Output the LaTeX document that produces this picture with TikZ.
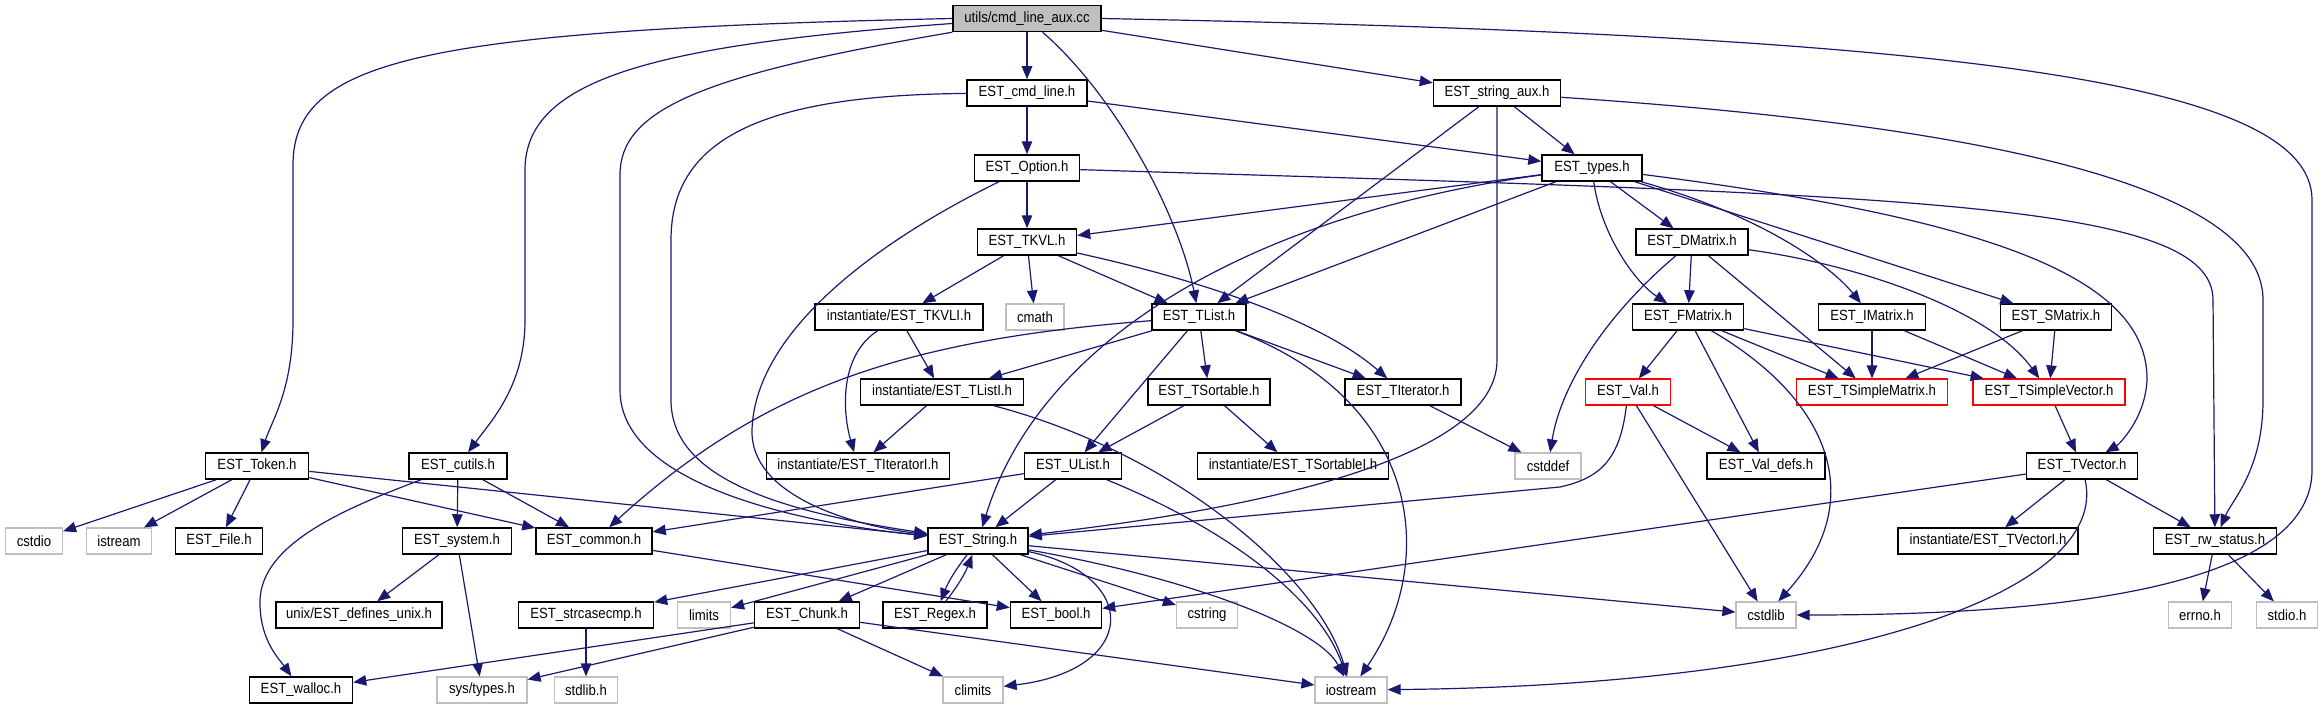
\documentclass[tikz,border=0pt]{standalone}
\usepackage{fontspec}
\setmainfont{Liberation Sans}[FakeStretch=0.89]
\usetikzlibrary{arrows.meta}
\definecolor{edgeblue}{HTML}{191970}
\definecolor{sysborder}{HTML}{BFBFBF}
\definecolor{rootfill}{HTML}{BFBFBF}
\definecolor{badborder}{HTML}{FF0000}
\newcommand{\depfont}{\fontsize{14.8}{16}\selectfont}
\tikzset{
  hdr/.style={rectangle, draw=black, line width=1.5pt, fill=white, minimum height=26pt, inner sep=0pt, font=\depfont},
  sysh/.style={hdr, draw=sysborder, line width=1.2pt},
  bad/.style={hdr, draw=badborder, line width=1.2pt},
  rootbox/.style={hdr, fill=rootfill},
  dep/.style={-{Triangle[length=13pt,width=10.5pt]}, draw=edgeblue, line width=1.2pt}
}
\begin{document}
\begin{tikzpicture}[x=1pt, y=-1pt]
\useasboundingbox (0,0) rectangle (2323,709);

% rows of the include graph
\node[rootbox, minimum width=148pt] (root) at (1027,18.5) {utils/cmd\_line\_aux.cc};

\node[hdr, minimum width=120pt] (cmd) at (1027,93) {EST\_cmd\_line.h};
\node[hdr, minimum width=127pt] (sa) at (1497,93) {EST\_string\_aux.h};

\node[hdr, minimum width=105pt] (opt) at (1027,168) {EST\_Option.h};
\node[hdr, minimum width=100pt] (ty) at (1592,168) {EST\_types.h};

\node[hdr, minimum width=99pt] (tkvl) at (1027,242) {EST\_TKVL.h};
\node[hdr, minimum width=112pt] (dm) at (1692,242) {EST\_DMatrix.h};

\node[hdr, minimum width=168pt] (tkvli) at (899,317) {instantiate/EST\_TKVLI.h};
\node[sysh, minimum width=58pt] (cmath) at (1035,317) {cmath};
\node[hdr, minimum width=94pt] (tl) at (1199,317) {EST\_TList.h};
\node[hdr, minimum width=111pt] (fm) at (1688,317) {EST\_FMatrix.h};
\node[hdr, minimum width=107pt] (im) at (1872,317) {EST\_IMatrix.h};
\node[hdr, minimum width=111pt] (sm) at (2056,317) {EST\_SMatrix.h};

\node[hdr, minimum width=163pt] (tli) at (942,392) {instantiate/EST\_TListI.h};
\node[hdr, minimum width=122pt] (tso) at (1209,392) {EST\_TSortable.h};
\node[hdr, minimum width=116pt] (tit) at (1403,392) {EST\_TIterator.h};
\node[bad, minimum width=85pt] (val) at (1628,392) {EST\_Val.h};
\node[bad, minimum width=151pt] (tsm) at (1872,392) {EST\_TSimpleMatrix.h};
\node[bad, minimum width=152pt] (tsv) at (2049,392) {EST\_TSimpleVector.h};

\node[hdr, minimum width=103pt] (tok) at (257,466) {EST\_Token.h};
\node[hdr, minimum width=98pt] (cut) at (458,466) {EST\_cutils.h};
\node[hdr, minimum width=183pt] (titi) at (858,466) {instantiate/EST\_TIteratorI.h};
\node[hdr, minimum width=97pt] (ul) at (1073,466) {EST\_UList.h};
\node[hdr, minimum width=191pt] (tsoi) at (1293,466) {instantiate/EST\_TSortableI.h};
\node[sysh, minimum width=66pt] (cdef) at (1548,466) {cstddef};
\node[hdr, minimum width=118pt] (vdef) at (1766,466) {EST\_Val\_defs.h};
\node[hdr, minimum width=111pt] (tv) at (2082,466) {EST\_TVector.h};

\node[sysh, minimum width=57pt] (cstdio) at (34,541) {cstdio};
\node[sysh, minimum width=65pt] (istr) at (119,541) {istream};
\node[hdr, minimum width=87pt] (file) at (219,541) {EST\_File.h};
\node[hdr, minimum width=109pt] (sys) at (457,541) {EST\_system.h};
\node[hdr, minimum width=116pt] (com) at (594,541) {EST\_common.h};
\node[hdr, minimum width=100pt] (str) at (978,541) {EST\_String.h};
\node[hdr, minimum width=180pt] (tvi) at (1988,541) {instantiate/EST\_TVectorI.h};
\node[hdr, minimum width=123pt] (rw) at (2215,541) {EST\_rw\_status.h};

\node[hdr, minimum width=166pt] (unix) at (359,615) {unix/EST\_defines\_unix.h};
\node[hdr, minimum width=135pt] (scc) at (586,615) {EST\_strcasecmp.h};
\node[sysh, minimum width=53pt] (lim) at (704,615) {limits};
\node[hdr, minimum width=105pt] (chunk) at (807,615) {EST\_Chunk.h};
\node[hdr, minimum width=104pt] (rgx) at (935,615) {EST\_Regex.h};
\node[hdr, minimum width=91pt] (bool) at (1056,615) {EST\_bool.h};
\node[sysh, minimum width=61pt] (cstr) at (1207,615) {cstring};
\node[sysh, minimum width=60pt] (cstdlib) at (1766,615) {cstdlib};
\node[sysh, minimum width=63pt] (errno) at (2200,615) {errno.h};
\node[sysh, minimum width=61pt] (stdio) at (2287,615) {stdio.h};

\node[hdr, minimum width=103pt] (wal) at (301,690) {EST\_walloc.h};
\node[sysh, minimum width=90pt] (systy) at (482,690) {sys/types.h};
\node[sysh, minimum width=63pt] (stdl) at (586,690) {stdlib.h};
\node[sysh, minimum width=60pt] (clim) at (973,690) {climits};
\node[sysh, minimum width=72pt] (ios) at (1351,690) {iostream};

% root
\draw[dep] (root.west) .. controls (420,30) and (293,60) .. (293,165) -- (293,320) .. controls (293,390) and (272,420) .. (tok);
\draw[dep] ([yshift=-5pt]root.west) .. controls (650,45) and (525,80) .. (525,170) -- (525,320) .. controls (525,385) and (492,420) .. (cut);
\draw[dep] (root.south west) .. controls (700,75) and (620,110) .. (620,175) -- (620,390) .. controls (620,490) and (820,525) .. (str);
\draw[dep] (root) -- (cmd);
\draw[dep] (root) .. controls (1120,100) and (1180,220) .. (tl);
\draw[dep] (root) -- (sa);
\draw[dep] (root.east) .. controls (1950,35) and (2312,80) .. (2312,200) -- (2312,470) .. controls (2312,600) and (2000,615) .. (cstdlib);

% cmd_line, string_aux, option
\draw[dep] (cmd) -- (opt);
\draw[dep] (cmd) -- (ty);
\draw[dep] (cmd) .. controls (760,95) and (671,140) .. (671,240) -- (671,400) .. controls (671,475) and (770,510) .. (str);
\draw[dep] (sa) -- (ty);
\draw[dep] (sa) -- (tl);
\draw[dep] (sa) -- (1497,360) .. controls (1497,470) and (1200,515) .. (str);
\draw[dep] (sa) .. controls (1900,120) and (2263,170) .. (2263,300) -- (2263,400) .. controls (2263,470) and (2232,500) .. (rw);
\draw[dep] (opt) -- (tkvl);
\draw[dep] (opt) .. controls (880,240) and (755,330) .. (752,430) .. controls (750,495) and (850,525) .. (str);
\draw[dep] (opt) .. controls (1900,195) and (2213,200) .. (2213,300) -- (rw);

% types
\draw[dep] (ty) -- (tkvl);
\draw[dep] (ty) -- (tl);
\draw[dep] (ty) .. controls (1250,215) and (1040,340) .. (str);
\draw[dep] (ty) -- (dm);
\draw[dep] (ty) .. controls (1600,230) and (1632,280) .. (fm);
\draw[dep] (ty) .. controls (1760,215) and (1830,265) .. (im);
\draw[dep] (ty) -- (sm);
\draw[dep] (ty) .. controls (2000,220) and (2148,280) .. (2147,380) .. controls (2145,420) and (2118,445) .. (tv);

% containers
\draw[dep] (tkvl) -- (tkvli);
\draw[dep] (tkvl) -- (cmath);
\draw[dep] (tkvl) -- (tl);
\draw[dep] (tkvl) .. controls (1200,280) and (1320,320) .. (tit);
\draw[dep] (tkvli) -- (tli);
\draw[dep] (tkvli) .. controls (840,355) and (842,410) .. (titi);
\draw[dep] (tl) .. controls (900,340) and (760,390) .. (com);
\draw[dep] (tl) -- (tli);
\draw[dep] (tl) -- (ul);
\draw[dep] (tl) -- (tso);
\draw[dep] (tl) -- (tit);
\draw[dep] (tl) .. controls (1420,400) and (1440,560) .. (ios);
\draw[dep] (tli) -- (titi);
\draw[dep] (tli) .. controls (1180,455) and (1320,580) .. (ios);
\draw[dep] (tso) -- (ul);
\draw[dep] (tso) -- (tsoi);
\draw[dep] (tit) -- (cdef);
\draw[dep] (ul) -- (com);
\draw[dep] (ul) -- (str);
\draw[dep] (ul) .. controls (1230,530) and (1320,600) .. (ios);

% matrices
\draw[dep] (dm) -- (fm);
\draw[dep] (dm) .. controls (1600,320) and (1560,390) .. (cdef);
\draw[dep] (dm) -- (tsm);
\draw[dep] (dm) .. controls (1860,265) and (1990,310) .. (tsv);
\draw[dep] (fm) -- (val);
\draw[dep] (fm) -- (vdef);
\draw[dep] (fm) -- (tsm);
\draw[dep] (fm) -- (tsv);
\draw[dep] (fm) .. controls (1830,400) and (1870,500) .. (cstdlib);
\draw[dep] (im) -- (tsm);
\draw[dep] (im) -- (tsv);
\draw[dep] (sm) -- (tsm);
\draw[dep] (sm) -- (tsv);
\draw[dep] (val) -- (vdef);
\draw[dep] (val) -- (cstdlib);
\draw[dep] (val) .. controls (1620,460) and (1600,478) .. (1560,487) -- (str);
\draw[dep] (tsv) -- (tv);
\draw[dep] (tv) -- (tvi);
\draw[dep] (tv) -- (rw);
\draw[dep] (tv) -- (bool);
\draw[dep] (tv) .. controls (2110,590) and (1850,685) .. (ios);
\draw[dep] (rw) -- (errno);
\draw[dep] (rw) -- (stdio);

% left side
\draw[dep] (tok) -- (cstdio);
\draw[dep] (tok) -- (istr);
\draw[dep] (tok) -- (file);
\draw[dep] (tok) -- (com);
\draw[dep] (tok) -- (str);
\draw[dep] (cut) .. controls (340,510) and (262,545) .. (260,600) .. controls (259,640) and (280,660) .. (wal);
\draw[dep] (cut) -- (sys);
\draw[dep] (cut) -- (com);
\draw[dep] (sys) -- (unix);
\draw[dep] (sys) -- (systy);
\draw[dep] (com) -- (bool);

% string
\draw[dep] (str) -- (scc);
\draw[dep] (str) -- (lim);
\draw[dep] (str) -- (chunk);
\draw[dep] (str) to[bend right=8] (rgx);
\draw[dep] (rgx) to[bend right=8] (str);
\draw[dep] (str) -- (bool);
\draw[dep] (str) -- (cstr);
\draw[dep] (str) .. controls (1140,575) and (1140,670) .. (clim);
\draw[dep] (str) .. controls (1200,580) and (1320,630) .. (ios);
\draw[dep] (str) -- (cstdlib);
\draw[dep] (scc) -- (stdl);
\draw[dep] (chunk) -- (wal);
\draw[dep] (chunk) -- (systy);
\draw[dep] (chunk) -- (clim);
\draw[dep] (chunk) -- (ios);

\end{tikzpicture}
\end{document}
